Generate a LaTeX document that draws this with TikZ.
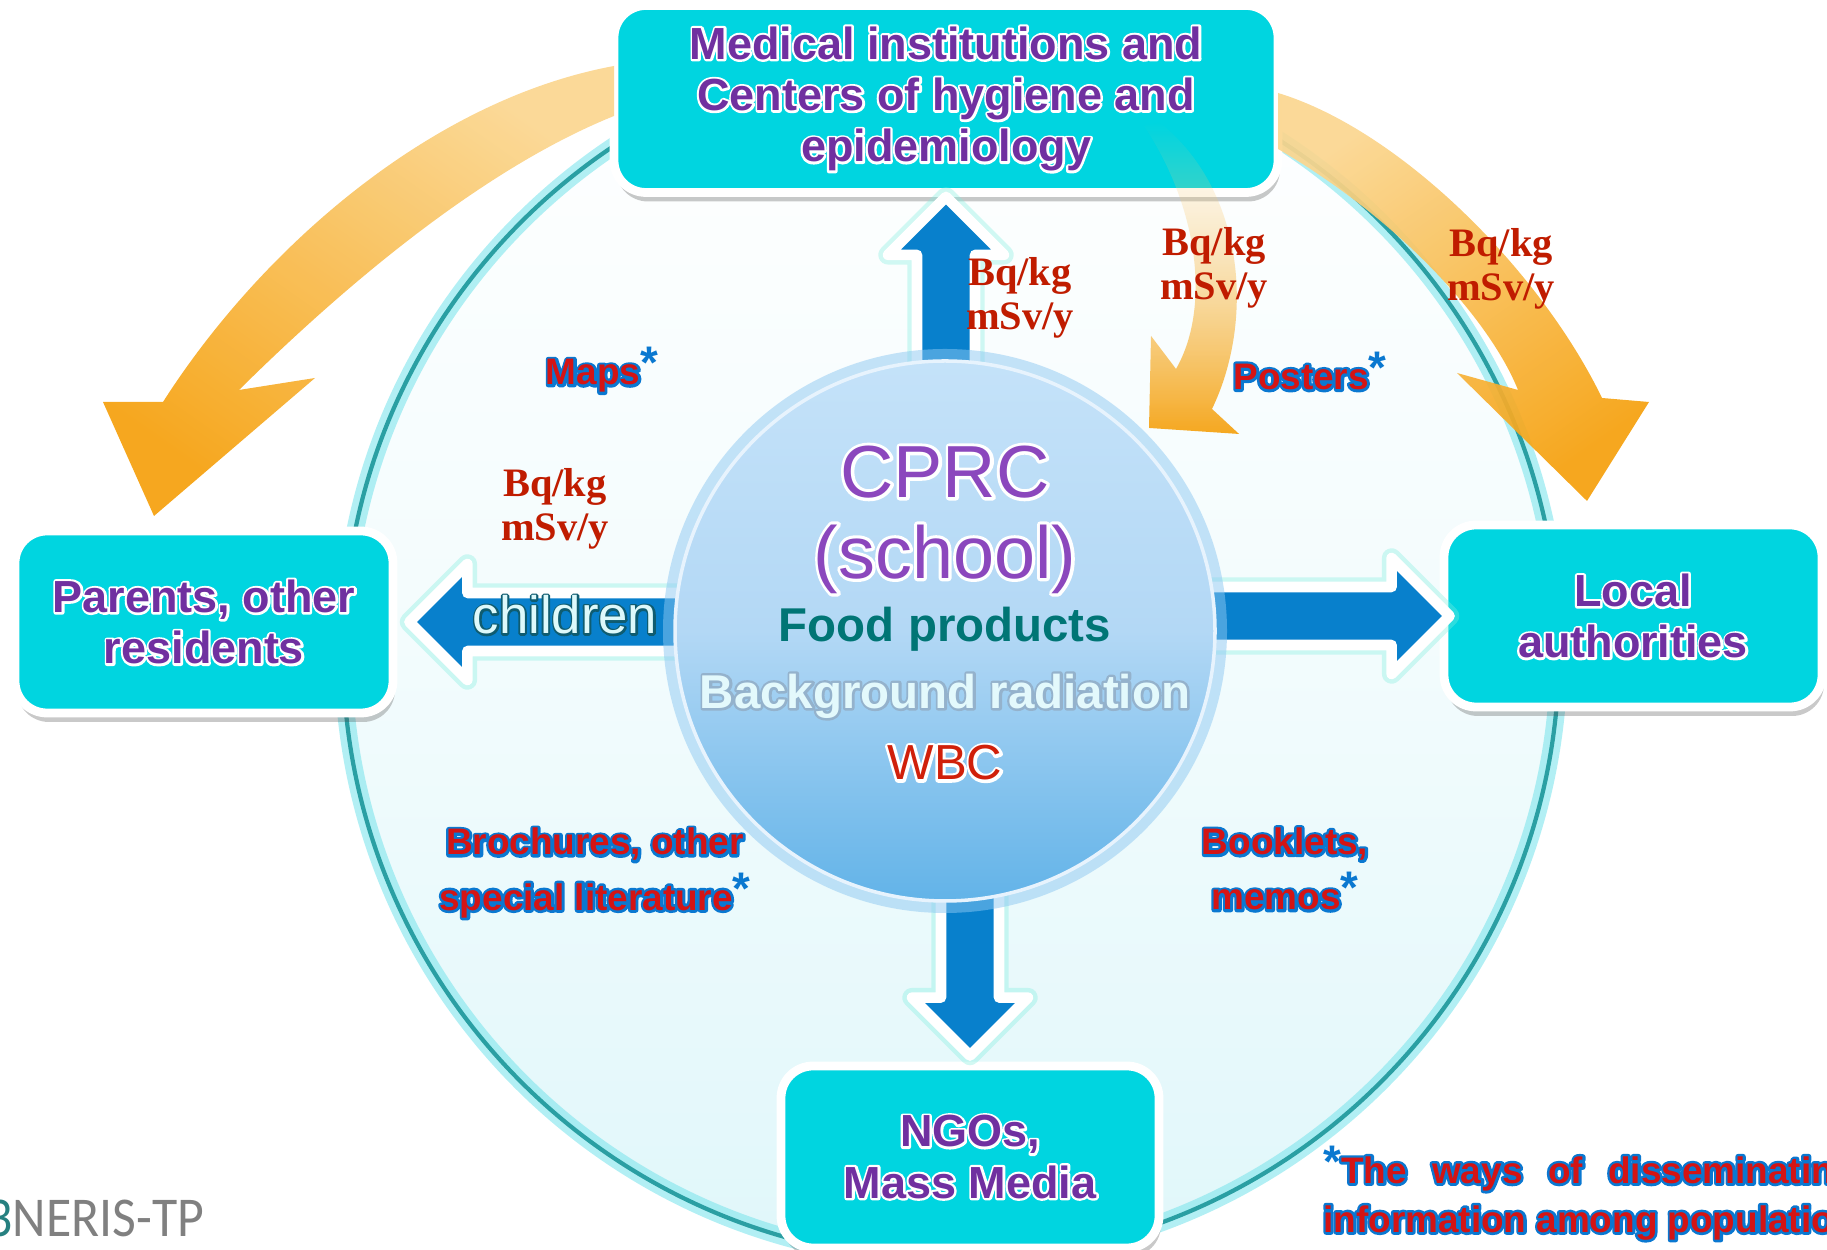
\documentclass[tikz,border=0pt]{standalone}
\usepackage{fontspec}
\setmainfont{Liberation Sans}
\newfontfamily\unitfont{Liberation Serif}
\newfontfamily\logofont{Carlito}[FakeStretch=0.92]
\usetikzlibrary{calc,shadows,fadings}

\definecolor{boxcyan}{HTML}{00D5E0}
\definecolor{boxpurple}{HTML}{7030A0}
\definecolor{cprcpurple}{HTML}{8B47BD}
\definecolor{arrowblue}{HTML}{0880CC}
\definecolor{arrowglowc}{HTML}{80EEDF}
\definecolor{foodteal}{HTML}{007575}
\definecolor{bgcyan}{HTML}{E3F9FC}
\definecolor{wbcred}{HTML}{D0200A}
\definecolor{unitred}{HTML}{C01C00}
\definecolor{mediared}{HTML}{D41414}
\definecolor{mediablue}{HTML}{0A78D0}
\definecolor{orangelight}{HTML}{FBD68F}
\definecolor{orangedark}{HTML}{F5A00C}
\definecolor{ringteal}{HTML}{2A9FA3}
\definecolor{ringglow}{HTML}{7FE5EC}
\definecolor{ringfill}{HTML}{E0F7FA}
\definecolor{cprctop}{HTML}{C4E2F9}
\definecolor{cprcmid}{HTML}{B3D8F5}
\definecolor{cprcbottom}{HTML}{62B3E8}
\definecolor{hubglow}{HTML}{8DC8F2}
\definecolor{kidscyan}{HTML}{DDF9FB}

\def\blockarrow[#1](#2)(#3){\coordinate (ba-base) at ($(#3)!0.58cm!(#2)$);
	\draw[#1] ($(#2)!0.29cm!90:(#3)$) -- ($(ba-base)!0.29cm!90:(#3)$) -- ($(ba-base)!0.58cm!90:(#3)$) -- (#3) -- ($(ba-base)!0.58cm!-90:(#3)$) -- ($(ba-base)!0.29cm!-90:(#3)$) -- ($(#2)!0.29cm!-90:(#3)$) -- cycle;}
% outline under the text: stroke colour (rgb), stroke width (bp), text
\newcommand\stroked[3]{\rlap{\special{pdf:literal direct #1 RG #2 w 1 j 1 Tr}#3\special{pdf:literal direct 0 Tr}}#3}
\newcommand\boxtext[1]{\stroked{1 1 1}{1.3}{#1}}
\newcommand\waytext[1]{\stroked{0.04 0.47 0.82}{1.5}{#1}}
\newcommand\waystar{\raisebox{0.3ex}{\fontsize{13}{13}\selectfont\color{mediablue}*}}

\tikzset{
	infobox/.style={rectangle, rounded corners=0.32cm, fill=boxcyan, draw=white, line width=2.5pt,
		minimum width=3.78cm, minimum height=1.82cm, inner sep=0pt, align=center, text=boxpurple,
		font=\fontsize{12.8}{14.6}\selectfont\bfseries,
		drop shadow={shadow xshift=0.02cm, shadow yshift=-0.09cm, opacity=0.3, fill=black!70}},
	arrowglow/.style={draw=arrowglowc, fill=arrowglowc, line width=5.5pt, line join=round, opacity=0.35},
	arrowbody/.style={draw=white, fill=arrowblue, line width=3pt, line join=round},
	hubdisc/.style={circle, minimum size=5.4cm, top color=cprctop, bottom color=cprcbottom, middle color=cprcmid, draw=white!60!cprctop, line width=1pt},
	unitlabel/.style={font=\unitfont\bfseries\fontsize{11.5}{12.6}\selectfont, text=unitred, align=center},
	waylabel/.style={font=\bfseries\fontsize{10.5}{15.7}\selectfont, text=mediared, align=center},
	orangeband/.style={top color=orangelight, bottom color=orangedark, fill opacity=0.92}
}

\begin{document}
\begin{tikzpicture}
	%%%%% START %%%%%
	\useasboundingbox (0,0) rectangle (18.27,12.5);
	\clip (0,0) rectangle (18.27,12.5);
	
	\coordinate (ring) at (9.51,5.98);
	\coordinate (hub) at (9.45,6.19);
	
	\shade[top color=white, bottom color=ringfill, middle color=white!60!ringfill] (ring) circle (6.08);
	\draw[line width=5pt, color=ringglow, opacity=0.6] (ring) circle (6.08);
	\draw[line width=1.2pt, color=ringteal] (ring) circle (6.08);
	
	\node[infobox, minimum width=6.64cm, minimum height=1.87cm] (med) at (9.46,11.51) {\boxtext{Medical institutions and}\\\boxtext{Centers of hygiene and}\\\boxtext{epidemiology}};
	\node[infobox] (parents) at (2.04,6.28) {\boxtext{Parents, other}\\\boxtext{residents}};
	\node[infobox] (local) at (16.33,6.34) {\boxtext{Local}\\\boxtext{authorities}};
	\node[infobox] (ngo) at (9.70,0.93) {\boxtext{NGOs,}\\\boxtext{Mass Media}};
	
	\coordinate (med-s) at (hub -| med.south);
	\coordinate (med-t) at (med.south);
	\coordinate (par-s) at (hub |- parents.east);
	\coordinate (par-t) at ($(parents.east)+(0.12,0)$);
	\coordinate (loc-s) at (hub |- local.west);
	\coordinate (loc-t) at ($(local.west)+(0.1,0)$);
	\coordinate (ngo-s) at (hub -| ngo.north);
	\coordinate (ngo-t) at ($(ngo.north)+(0,0.06)$);
	
	\foreach \b in {med,par,loc,ngo} {\blockarrow[arrowglow](\b-s)(\b-t)}
	\foreach \b in {med,par,loc,ngo} {\blockarrow[arrowbody](\b-s)(\b-t)}
	
	\fill[hubglow, opacity=0.5] (hub) circle (2.82);
	\node[hubdisc] (cprc) at (hub) {};
	
	\shade[orangeband, shading angle=-35] (6.14,11.84) .. controls (4.3,11.5) and (2.6,10.0) .. (1.63,8.48) -- (1.03,8.48) -- (1.54,7.34) -- (3.15,8.72) -- (2.39,8.60) .. controls (3.4,9.6) and (4.8,10.8) .. (6.14,11.34) -- cycle;
	\shade[orangeband, path fading=north] (11.44,11.24) -- (11.59,11.28) .. controls (12.45,10.6) and (12.55,9.3) .. (12.12,8.41) -- (12.39,8.16) -- (11.49,8.22) -- (11.51,9.14) -- (11.76,8.81) .. controls (12.1,9.4) and (12.0,10.4) .. (11.44,11.24) -- cycle;
	\shade[orangeband, shading angle=35] (12.78,11.57) .. controls (14.0,11.2) and (15.4,9.8) .. (16.02,8.52) -- (16.49,8.48) -- (15.87,7.49) -- (14.57,8.77) -- (15.18,8.60) .. controls (14.9,9.3) and (14.0,10.3) .. (12.78,11.01) -- cycle;
	
	\node[font=\fontsize{21}{21}\selectfont, text=cprcpurple, inner sep=0pt] (cprc-name) at (9.45,7.78) {\stroked{1 1 1}{1.8}{CPRC}};
	\node[font=\fontsize{21}{21}\selectfont, text=cprcpurple, inner sep=0pt] (cprc-kind) at (9.45,6.91) {\stroked{1 1 1}{1.8}{(school)}};
	\node[font=\bfseries\fontsize{13.5}{13.5}\selectfont, text=foodteal] (food) at (9.45,6.21) {Food products};
	\node[font=\bfseries\fontsize{13.5}{13.5}\selectfont, text=bgcyan] (bgrad) at (9.45,5.54) {\stroked{0.58 0.70 0.80}{1.4}{Background radiation}};
	\node[font=\fontsize{14}{14}\selectfont, text=wbcred] (wbc) at (9.45,4.87) {\stroked{1 1 1}{1.6}{WBC}};
	
	\node[font=\fontsize{15}{15}\selectfont, text=kidscyan] (kids) at (5.65,6.35) {\stroked{0.06 0.36 0.44}{1.1}{children}};
	
	\node[unitlabel] (u-up) at (10.20,9.52) {Bq/kg\\mSv/y};
	\node[unitlabel] (u-mid) at (12.14,9.82) {Bq/kg\\mSv/y};
	\node[unitlabel] (u-right) at (15.01,9.81) {Bq/kg\\mSv/y};
	\node[unitlabel] (u-left) at (5.55,7.41) {Bq/kg\\mSv/y};
	
	\node[waylabel] (maps) at (6.02,8.80) {\waytext{Maps}\waystar};
	\node[waylabel] (posters) at (13.10,8.79) {\waytext{Posters}\waystar};
	\node[waylabel] (brochures) at (5.95,3.77) {\waytext{Brochures, other}\\\waytext{special literature}\waystar};
	\node[waylabel] (booklets) at (12.85,3.81) {\waytext{Booklets,}\\\waytext{memos}\waystar};
	
	\node[waylabel, anchor=west, align=left, font=\bfseries\fontsize{10.5}{13.9}\selectfont] (note) at (13.11,0.57) {\setbox0\hbox{information among population}\hbox to \wd0{\waystar\waytext{The}\hfill\waytext{ways}\hfill\waytext{of}\hfill\waytext{disseminating}}\\\waytext{information among population}};
	
	\node[anchor=base west, font=\logofont\fontsize{16}{16}\selectfont, text=black!50, inner sep=0pt] (logo) at (-0.14,0.13) {{\color{teal!70!gray}3}NERIS-TP};
	
	%%%%% END %%%%%
\end{tikzpicture}
\end{document}
